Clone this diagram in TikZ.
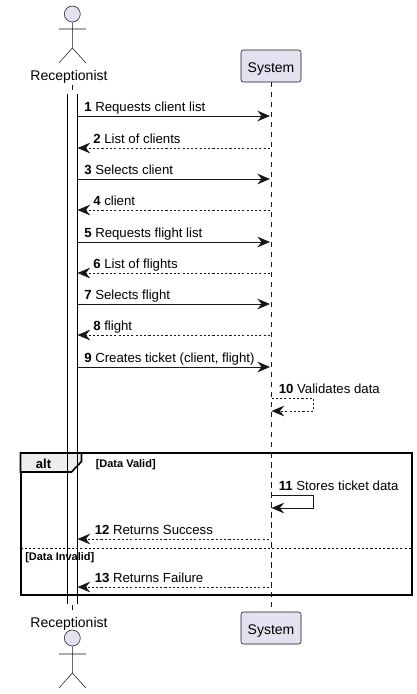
\documentclass[tikz,border=0pt]{standalone}
\usepackage{fontspec}
\setmainfont{Liberation Sans}
\usetikzlibrary{arrows.meta}
\definecolor{partfill}{HTML}{E2E2F0}
\definecolor{partline}{HTML}{181818}
\definecolor{framefill}{HTML}{EEEEEE}
\tikzset{
  x=0.75pt,y=-0.75pt,
  lifeline/.style={draw=partline,line width=0.45pt,dash pattern=on 3.75pt off 3.75pt},
  partbox/.style={draw=partline,fill=partfill,line width=0.4pt,rounded corners=1.8pt,minimum width=45pt,minimum height=24pt,inner sep=0pt,text height=12pt,text depth=2pt,font=\fontsize{10.5}{12}\selectfont,text=black},
  actorline/.style={draw=partline,line width=0.4pt,fill=none},
  actorhead/.style={circle,draw=partline,fill=partfill,line width=0.4pt,minimum size=12pt,inner sep=0pt},
  actorname/.style={inner sep=0pt,font=\fontsize{10.5}{12}\selectfont,text=black},
  tip/.style={-{Stealth[length=9.5pt,width=8pt,inset=3.2pt,fill=partline]}},
  sync/.style={draw=partline,line width=0.75pt,tip},
  reply/.style={draw=partline,line width=0.75pt,dash pattern=on 1.6pt off 1.6pt,tip},
  msg/.style={anchor=base west,inner sep=0pt,font=\fontsize{9.9}{11}\selectfont,text=black},
  guard/.style={anchor=west,inner sep=0pt,font=\fontsize{8.25}{10}\selectfont\bfseries,text=black},
  activation/.style={draw=none,fill=white},
  actedge/.style={draw=black,line width=0.75pt},
  frameline/.style={draw=black,line width=1.5pt},
}
\begin{document}
\begin{tikzpicture}
\useasboundingbox[fill=white] (0,0) rectangle (417,694);
% participants
\node[partbox] (sysT) at (271,66) {System};
\node[partbox] (sysB) at (271,628) {System};
\node[actorname] (recT) at (69,76.5) {Receptionist};
\node[actorname] (recB) at (69,623.5) {Receptionist};
\coordinate (recTl) at (72.5,85);
\coordinate (recBl) at (72.5,612);
\draw[lifeline] (sysT.south) -- (sysB.north);
\draw[lifeline] (recTl) -- (recBl);
% actors
\node[actorhead] (headT) at (72.3,14) {};
\draw[actorline] (headT.south) -- (72.3,48) (59,29) -- (86,29) (59,63) -- (72.3,48) -- (86,63);
\node[actorhead] (headB) at (72.3,638) {};
\draw[actorline] (headB.south) -- (72.3,673) (59,654) -- (86,654) (59,688) -- (72.3,673) -- (86,688);
% activation bar: white body with side edges only
\coordinate (actLT) at (67.5,94); \coordinate (actLB) at (67.5,604);
\coordinate (actRT) at (77.5,94); \coordinate (actRB) at (77.5,604);
\fill[activation] (actLT) rectangle (actRB);
\draw[actedge] (actLT) -- (actLB);
\draw[actedge] (actRT) -- (actRB);
% messages
\foreach \yy/\kind/\lab/\xx in {
  116/sync/{\textbf{1} Requests client list}/84,
  148/reply/{\textbf{2} List of clients}/93,
  179/sync/{\textbf{3} Selects client}/84,
  210/reply/{\textbf{4} client}/93,
  242/sync/{\textbf{5} Requests flight list}/84,
  273/reply/{\textbf{6} List of flights}/93,
  304/sync/{\textbf{7} Selects flight}/84,
  335/reply/{\textbf{8} flight}/93,
  367/sync/{\textbf{9} Creates ticket (client, flight)}/84}{
  \coordinate (L) at (77.5,\yy); \coordinate (R) at (270,\yy);
  \ifnum\pdfstrcmp{\kind}{sync}=0
    \draw[sync] (L) -- (R);
  \else
    \draw[reply] (R) -- (L);
  \fi
  \node[msg] at (\xx,\yy-5) {\lab};
}
% self 10
\coordinate (a10) at (271.5,398); \coordinate (b10) at (271.5,411);
\draw[reply] (a10) -- (313.5,398) -- (313.5,411) -- (b10);
\node[msg] at (278.5,393) {\textbf{10} Validates data};
% frame
\draw[frameline] (20.5,453) rectangle (412,595);
\draw[draw=black,line width=1.2pt,fill=framefill] (20.5,453) -- (81.5,453) -- (81.5,461.5) -- (71.5,472) -- (20.5,472) -- cycle;
\draw[actedge] (67.5,453) -- (67.5,595);
\draw[actedge] (77.5,453) -- (77.5,595);
\draw[lifeline] (271,453) -- (271,595);
\node[inner sep=0pt,font=\fontsize{9.75}{11}\selectfont\bfseries] (altlab) at (43.5,464) {alt};
\node[guard] (g1) at (95.5,464.5) {[Data Valid]};
\draw[draw=black,line width=0.75pt,dash pattern=on 1.6pt off 1.6pt] (20.5,548) -- (412,548);
\node[guard] (g2) at (25,558) {[Data Invalid]};
% self 11
\coordinate (a11) at (271.5,495); \coordinate (b11) at (271.5,508);
\draw[sync] (a11) -- (313.5,495) -- (313.5,508) -- (b11);
\node[msg] at (278.5,490) {\textbf{11} Stores ticket data};
% 12, 13
\coordinate (r12) at (269,539); \coordinate (l12) at (77.5,539);
\draw[reply] (r12) -- (l12);
\node[msg] at (94.5,534) {\textbf{12} Returns Success};
\coordinate (r13) at (269,587); \coordinate (l13) at (77.5,587);
\draw[reply] (r13) -- (l13);
\node[msg] at (94.5,582) {\textbf{13} Returns Failure};
\end{tikzpicture}
\end{document}
